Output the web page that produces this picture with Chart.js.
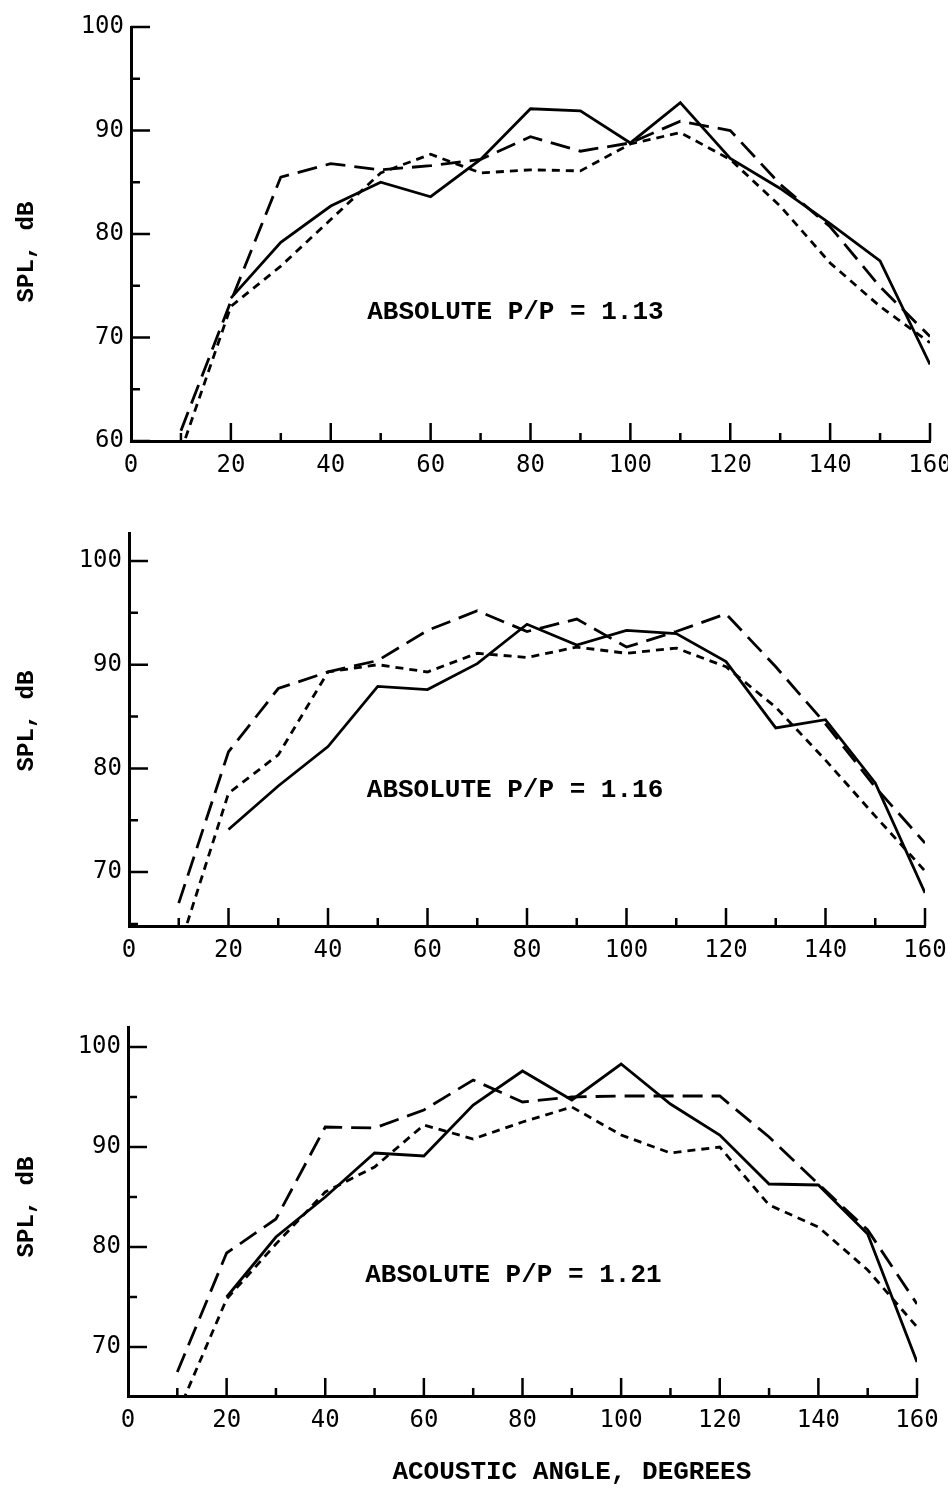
<!DOCTYPE html>
<html>
<head>
<meta charset="utf-8">
<script src="https://cdn.jsdelivr.net/npm/chart.js@4.4.0/dist/chart.umd.min.js"></script>
<style>
  body { margin: 0; background: #fff; }
  canvas { display: block; }
</style>
</head>
<body>
<canvas id="p113" width="948" height="490"></canvas>
<canvas id="p116" width="948" height="490"></canvas>
<canvas id="p121" width="948" height="509"></canvas>
<script>
// acoustic angle, degrees
const angles = [10, 20, 30, 40, 50, 60, 70, 80, 90, 100, 110, 120, 130, 140, 150, 160];
const angleTicks = [0, 20, 40, 60, 80, 100, 120, 140, 160];

// SPL, dB — absolute P/P = 1.13
const solid113 = [null, 73.8, 79.2, 82.7, 85.0, 83.6, 87.2, 92.1, 91.9, 88.8, 92.7, 87.3, 84.4, 81.0, 77.4, 67.4];
const longDash113 = [61.0, 73.5, 85.5, 86.8, 86.2, 86.6, 87.2, 89.4, 88.0, 88.8, 90.9, 90.0, 84.8, 80.7, 74.9, 70.1];
const shortDash113 = [59.0, 73.0, 76.9, 81.4, 85.9, 87.7, 85.9, 86.2, 86.1, 88.7, 89.8, 87.2, 82.7, 77.2, 73.0, 69.5];
const splTicks113 = [60, 70, 80, 90, 100];

// absolute P/P = 1.16
const solid116 = [null, 74.1, 78.3, 82.1, 87.9, 87.6, 90.1, 93.9, 91.9, 93.3, 93.0, 90.3, 83.9, 84.7, 78.6, 68.0];
const longDash116 = [67.0, 81.6, 87.7, 89.3, 90.4, 93.3, 95.2, 93.2, 94.4, 91.7, 93.2, 94.9, 89.8, 84.3, 78.2, 72.8];
const shortDash116 = [62.5, 77.6, 81.3, 89.3, 90.0, 89.3, 91.1, 90.7, 91.7, 91.1, 91.6, 89.8, 85.9, 80.8, 75.4, 70.1];
const splTicks116 = [70, 80, 90, 100];

// absolute P/P = 1.21
const solid121 = [null, 75.0, 81.0, 85.0, 89.4, 89.1, 94.2, 97.6, 94.7, 98.3, 94.3, 91.2, 86.3, 86.2, 81.3, 68.5];
const longDash121 = [67.5, 79.4, 82.8, 92.0, 91.9, 93.7, 96.7, 94.5, 95.0, 95.1, 95.1, 95.1, 91.0, 86.3, 81.7, 74.3];
const shortDash121 = [63.3, 74.8, 80.3, 85.5, 88.0, 92.2, 90.8, 92.5, 94.0, 91.2, 89.4, 90.0, 84.2, 82.0, 77.7, 72.0];
const splTicks121 = [70, 80, 90, 100];

const MONO = '"Liberation Mono", "DejaVu Sans Mono", monospace';
const DIGITS = '"DejaVu Sans Mono", "Liberation Mono", monospace';

const toPoints = (values) => angles.map((a, i) => ({ x: a, y: values[i] }));

// tick marks point into the plot on both axes, long at labelled values
const inwardTicks = {
  id: 'inwardTicks',
  afterDraw(chart) {
    const { ctx, chartArea, scales } = chart;
    const x = scales.x;
    const y = scales.y;
    ctx.save();
    ctx.strokeStyle = '#000';
    ctx.lineWidth = 2.5;
    ctx.lineCap = 'butt';
    ctx.beginPath();
    for (let v = 10; v <= 160; v += 10) {
      const px = x.getPixelForValue(v);
      const len = v % 20 === 0 ? 18 : 8;
      ctx.moveTo(px, chartArea.bottom);
      ctx.lineTo(px, chartArea.bottom - len);
    }
    for (let v = Math.ceil(y.min / 5) * 5; v <= y.max; v += 5) {
      const py = y.getPixelForValue(v);
      const len = v % 10 === 0 ? 19 : 9;
      ctx.moveTo(chartArea.left, py);
      ctx.lineTo(chartArea.left + len, py);
    }
    ctx.stroke();
    ctx.restore();
  }
};

// caption inside the plot, rotated SPL title, and angle title under the last panel
const panelText = {
  id: 'panelText',
  afterDraw(chart, args, opts) {
    const { ctx, scales } = chart;
    ctx.save();
    ctx.fillStyle = '#000';
    ctx.font = 'bold 26px ' + MONO;
    ctx.textBaseline = 'middle';
    ctx.textAlign = 'left';
    ctx.fillText(opts.note, scales.x.getPixelForValue(opts.noteAt[0]), scales.y.getPixelForValue(opts.noteAt[1]));

    ctx.save();
    ctx.font = 'bold 24px ' + MONO;
    ctx.translate(27, opts.yTitleY);
    ctx.rotate(-Math.PI / 2);
    ctx.textAlign = 'center';
    ctx.fillText('SPL, dB', 0, 0);
    ctx.restore();

    if (opts.xTitle) {
      ctx.font = 'bold 26px ' + MONO;
      ctx.textAlign = 'center';
      ctx.fillText(opts.xTitle, scales.x.getPixelForValue(90), chart.chartArea.bottom + 76);
    }
    ctx.restore();
  }
};

function drawPanel(id, series, splTicks, box, text) {
  const [solid, longDash, shortDash] = series;
  const canvas = document.getElementById(id);
  const line = (values, dash) => ({
    data: toPoints(values),
    borderColor: '#000',
    borderWidth: 2.8,
    borderDash: dash,
    pointRadius: 0,
    tension: 0,
    spanGaps: false
  });

  new Chart(canvas, {
    type: 'line',
    data: {
      datasets: [
        line(solid, []),
        line(longDash, [20, 9]),
        line(shortDash, [8, 6])
      ]
    },
    options: {
      responsive: false,
      animation: false,
      devicePixelRatio: 1,
      layout: {
        padding: { left: 0, top: box.top, right: canvas.width - box.right, bottom: 0 }
      },
      plugins: {
        legend: { display: false },
        tooltip: { enabled: false },
        panelText: text
      },
      scales: {
        x: {
          type: 'linear',
          min: 0,
          max: 160,
          grid: { display: false, drawTicks: false },
          border: { display: true, color: '#000', width: 3 },
          ticks: {
            color: '#000',
            padding: 10,
            font: { family: DIGITS, size: 24 }
          },
          afterBuildTicks: (scale) => {
            scale.ticks = angleTicks.map(v => ({ value: v }));
          },
          afterFit: (scale) => {
            scale.height = canvas.height - box.bottom;
            scale.paddingLeft = 0;
            scale.paddingRight = 0;
          }
        },
        y: {
          min: box.yMin,
          max: box.yMax,
          grid: { display: false, drawTicks: false },
          border: { display: true, color: '#000', width: 3 },
          ticks: {
            color: '#000',
            padding: 7,
            font: { family: DIGITS, size: 24 }
          },
          afterBuildTicks: (scale) => {
            scale.ticks = splTicks.map(v => ({ value: v }));
          },
          afterFit: (scale) => {
            scale.width = box.left;
            scale.paddingTop = 0;
            scale.paddingBottom = 0;
          }
        }
      }
    },
    plugins: [inwardTicks, panelText]
  });
}

drawPanel('p113', [solid113, longDash113, shortDash113], splTicks113,
  { left: 131, right: 930, top: 27, bottom: 441, yMin: 60, yMax: 100 },
  { note: 'ABSOLUTE P/P = 1.13', noteAt: [47.3, 72.4], yTitleY: 252 });

drawPanel('p116', [solid116, longDash116, shortDash116], splTicks116,
  { left: 129, right: 925, top: 43, bottom: 436, yMin: 64.8, yMax: 102.7 },
  { note: 'ABSOLUTE P/P = 1.16', noteAt: [47.8, 77.9], yTitleY: 231 });

drawPanel('p121', [solid121, longDash121, shortDash121], splTicks121,
  { left: 128, right: 917, top: 47, bottom: 416, yMin: 65.1, yMax: 102.0 },
  { note: 'ABSOLUTE P/P = 1.21', noteAt: [48.1, 77.2], yTitleY: 227, xTitle: 'ACOUSTIC ANGLE, DEGREES' });
</script>
</body>
</html>
